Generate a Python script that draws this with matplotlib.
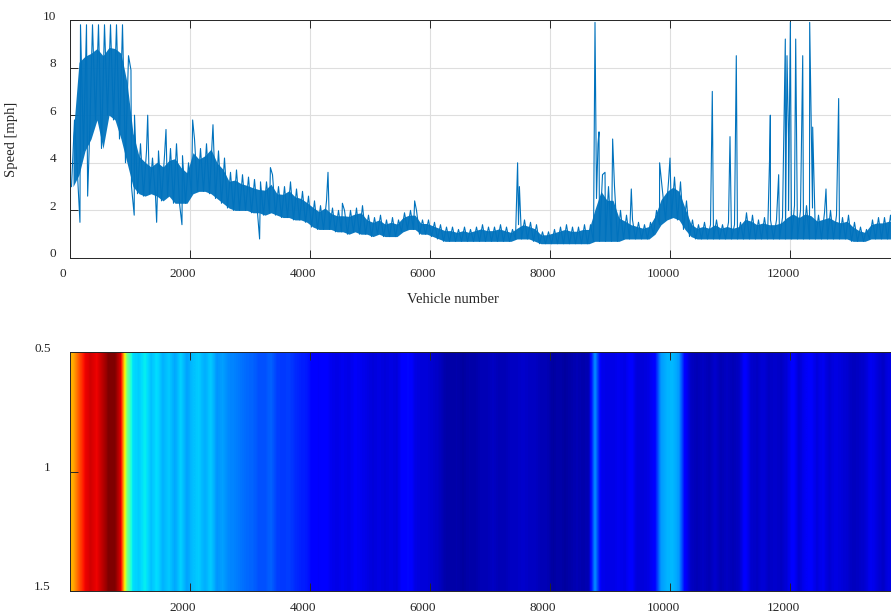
import numpy as np
import matplotlib.pyplot as plt
from matplotlib.transforms import ScaledTranslation

# width of one bin of vehicles used for the band / strip values below
BIN = 100

# lower and upper edge of the noisy speed band, one pair per 100 vehicles (mph)
band_lo = [
    3.0, 3.5, 4.5, 5.0, 5.8, 4.6, 6.0, 5.8, 5.0, 4.0,
    3.0, 2.7, 2.6, 2.7, 2.6, 2.4, 2.6, 2.3, 2.3, 2.3,
    2.7, 2.8, 2.8, 2.7, 2.5, 2.3, 2.1, 2.0, 2.0, 2.0,
    1.9, 1.9, 1.8, 1.9, 1.8, 1.7, 1.7, 1.6, 1.6, 1.5,
    1.3, 1.2, 1.2, 1.2, 1.1, 1.1, 1.0, 1.1, 1.0, 1.0,
    0.9, 1.0, 0.9, 0.9, 0.9, 1.1, 1.2, 1.2, 1.0, 1.0,
    0.9, 0.8, 0.7, 0.7, 0.7, 0.7, 0.7, 0.7, 0.7, 0.7,
    0.7, 0.7, 0.7, 0.7, 0.8, 0.8, 0.8, 0.7, 0.6, 0.6,
    0.6, 0.6, 0.6, 0.6, 0.6, 0.6, 0.6, 0.7, 0.7, 0.7,
    0.7, 0.7, 0.8, 0.8, 0.8, 0.8, 0.8, 1.0, 1.4, 1.6,
    1.7, 1.6, 1.2, 0.9, 0.8, 0.8, 0.8, 0.8, 0.8, 0.8,
    0.8, 0.8, 0.8, 0.8, 0.8, 0.8, 0.8, 0.8, 0.8, 0.8,
    0.8, 0.8, 0.8, 0.8, 0.8, 0.8, 0.8, 0.8, 0.8, 0.8,
    0.7, 0.7, 0.7, 0.8, 0.8, 0.8, 0.8, 0.8, 0.8,
]
band_hi = [
    5.8, 9.8, 9.8, 9.8, 9.8, 9.8, 9.8, 9.8, 9.8, 8.5,
    6.0, 4.8, 4.5, 4.2, 4.5, 4.3, 4.6, 4.8, 4.3, 4.0,
    5.0, 4.6, 4.8, 5.2, 4.5, 4.2, 3.6, 3.7, 3.5, 3.4,
    3.3, 3.2, 3.2, 3.5, 3.0, 3.0, 3.2, 2.9, 2.8, 2.6,
    2.4, 2.2, 2.4, 2.1, 2.0, 2.0, 2.0, 2.1, 2.2, 1.8,
    1.7, 1.8, 1.6, 1.7, 1.6, 1.9, 2.0, 2.0, 1.6, 1.6,
    1.5, 1.4, 1.3, 1.3, 1.2, 1.3, 1.2, 1.3, 1.4, 1.3,
    1.3, 1.4, 1.3, 1.2, 1.4, 1.6, 1.5, 1.4, 1.1, 1.1,
    1.2, 1.3, 1.4, 1.3, 1.3, 1.4, 1.4, 2.5, 3.5, 3.0,
    3.0, 2.0, 1.8, 1.6, 1.5, 1.4, 1.5, 2.0, 2.8, 3.2,
    3.4, 3.2, 2.4, 1.6, 1.4, 1.5, 1.4, 1.6, 1.4, 1.5,
    1.4, 1.5, 1.9, 1.8, 1.6, 1.7, 1.6, 1.6, 1.7, 2.0,
    2.2, 2.0, 2.2, 2.1, 1.8, 1.9, 2.0, 1.8, 1.7, 1.8,
    1.5, 1.3, 1.2, 1.6, 1.7, 1.7, 1.8, 1.7, 1.6,
]

# isolated spikes sticking out of the band
spike_vehicle = [166, 294, 1016, 1070, 1295, 1444, 1600, 1866, 2044, 2383,
                 3160, 3340, 4300, 4540, 5744, 7460, 7490, 8750, 8800, 8817,
                 8917, 9044, 9355, 9827, 10000, 10705, 11000, 11105, 11660, 11672,
                 11811, 11922, 11950, 11975, 12006, 12095, 12212, 12328, 12378, 12600,
                 12811]
spike_speed = [1.5, 2.6, 7.9, 1.8, 6.0, 1.5, 5.4, 1.4, 5.8, 5.6,
               0.8, 3.8, 3.6, 2.3, 2.4, 4.0, 3.0, 9.9, 4.8, 5.3,
               3.6, 5.0, 2.9, 4.0, 4.2, 7.0, 5.1, 8.5, 4.2, 6.0,
               3.5, 9.2, 8.5, 5.0, 9.9, 9.2, 8.5, 9.9, 5.5, 2.9,
               6.7]

# value shown in the colour strip, one per 100 vehicles (mph)
strip_speed = [
    6.7, 7.5, 8.2, 8.4, 8.2, 8.6, 9.0, 9.0, 8.3, 4.9,
    3.55, 3.4, 3.7, 3.3, 3.55, 3.2, 3.4, 3.1, 3.45, 3.05,
    3.3, 3.4, 3.15, 3.4, 2.95, 3.05, 2.85, 2.8, 2.7, 2.6,
    2.55, 2.4, 2.4, 2.55, 2.25, 2.2, 2.25, 2.1, 2.0, 1.95,
    1.7, 1.6, 1.7, 1.53, 1.45, 1.53, 1.45, 1.6, 1.53, 1.45,
    1.36, 1.45, 1.36, 1.45, 1.36, 1.7, 1.8, 1.45, 1.36, 1.36,
    1.28, 1.2, 1.03, 1.0, 1.03, 0.95, 1.03, 1.0, 1.1, 1.1,
    1.2, 1.1, 1.1, 1.2, 1.2, 1.28, 1.2, 1.2, 1.1, 1.1,
    0.95, 1.03, 0.95, 1.03, 1.1, 1.03, 1.1, 2.95, 1.53, 1.45,
    1.45, 1.53, 1.45, 1.7, 1.36, 1.36, 1.45, 1.7, 3.0, 3.2,
    3.25, 3.0, 1.7, 1.2, 1.1, 1.2, 1.1, 1.28, 1.1, 1.2,
    1.1, 1.2, 1.7, 1.28, 1.2, 1.36, 1.2, 1.28, 1.2, 1.36,
    1.7, 1.3, 1.55, 1.65, 1.38, 1.55, 1.3, 1.45, 1.38, 1.3,
    1.15, 1.22, 1.3, 1.55, 1.38, 1.22, 1.45, 1.38, 1.3,
]

x_ticks = [0, 2000, 4000, 6000, 8000, 10000, 12000]
speed_ticks = [0, 2, 4, 6, 8, 10]

plt.rcParams["font.family"] = ["Liberation Serif", "DejaVu Serif"]
plt.rcParams["axes.edgecolor"] = "#262626"
plt.rcParams["axes.linewidth"] = 0.7

line_color = "#0072BD"

# Build the zig-zag band (low / high inside each bin) and merge the spikes
n_bins = len(band_lo)
x_line = []
y_line = []
for i in range(n_bins):
    x_line += [i * BIN + 25, i * BIN + 75]
    y_line += [band_lo[i], band_hi[i]]
x_line = np.array(x_line + spike_vehicle, dtype=float)
y_line = np.array(y_line + spike_speed, dtype=float)
order = np.argsort(x_line)
x_line, y_line = x_line[order], y_line[order]

# dense core of the band: the lower ~3/4 of the low/high range is nearly solid ink
x_bins = np.arange(n_bins) * BIN + BIN / 2
lo = np.array(band_lo)
hi = np.array(band_hi)
core_top = lo + 0.75 * (hi - lo)

fig = plt.figure(figsize=(8.91, 6.15), dpi=100)
W, H = 891, 615
x_end = 14000
ax_w = (910 - 70) / W

# --- top: speed per vehicle ---
ax1 = fig.add_axes([70 / W, 1 - 258 / H, ax_w, (258 - 20) / H])
ax1.fill_between(x_bins, lo, core_top, color=line_color,
                 linewidth=0, alpha=0.95)
ax1.plot(x_line, y_line, color=line_color, linewidth=0.8)
ax1.set_xlim(0, x_end)
ax1.set_ylim(0, 10)
ax1.set_xticks(x_ticks)
ax1.set_yticks(speed_ticks)
ax1.grid(True, color="#dedede", linewidth=0.8)
ax1.set_axisbelow(True)
ax1.tick_params(direction="in", length=5.5, width=0.7, color="#262626",
                top=True, labelsize=9.5, labelcolor="#262626")
ax1.tick_params(axis="y", pad=10)
ax1.tick_params(axis="x", pad=7)
ax1.set_xlabel("Vehicle number", fontsize=10.5, color="#262626")
ax1.xaxis.set_label_coords((453 - 70) / 840, -0.145)
ax1.set_ylabel("Speed [mph]", fontsize=10.5, color="#262626")
ax1.yaxis.set_label_coords(-0.062, 0.5)

# --- bottom: colour strip ---
ax2 = fig.add_axes([70 / W, 1 - 591 / H, ax_w, (591 - 352) / H])
strip = np.array(strip_speed)[np.newaxis, :]
ax2.imshow(strip, cmap="jet", vmin=0.7, vmax=9.0, aspect="auto",
           interpolation="bilinear",
           extent=[0, len(strip_speed) * BIN, 1.5, 0.5])
ax2.set_xlim(0.5, x_end)
ax2.set_ylim(1.5, 0.5)
ax2.set_xticks(x_ticks[1:])
ax2.set_yticks([0.5, 1, 1.5])
ax2.set_yticklabels(["0.5", "1", "1.5"])
ax2.tick_params(direction="in", length=5.5, width=0.7, color="#262626",
                top=True, labelsize=9.5, labelcolor="#262626")
ax2.tick_params(axis="y", pad=14)
ax2.tick_params(axis="x", pad=8)

# MATLAB-like label placement: y labels sit a little above their tick,
# x labels a little to the left
shift_up = ScaledTranslation(0, 5 / 100, fig.dpi_scale_trans)
shift_left = ScaledTranslation(-7 / 100, 0, fig.dpi_scale_trans)
for ax in (ax1, ax2):
    for lab in ax.get_yticklabels():
        lab.set_transform(lab.get_transform() + shift_up)
    for lab in ax.get_xticklabels():
        lab.set_transform(lab.get_transform() + shift_left)

fig.savefig("out.png", dpi=100)
